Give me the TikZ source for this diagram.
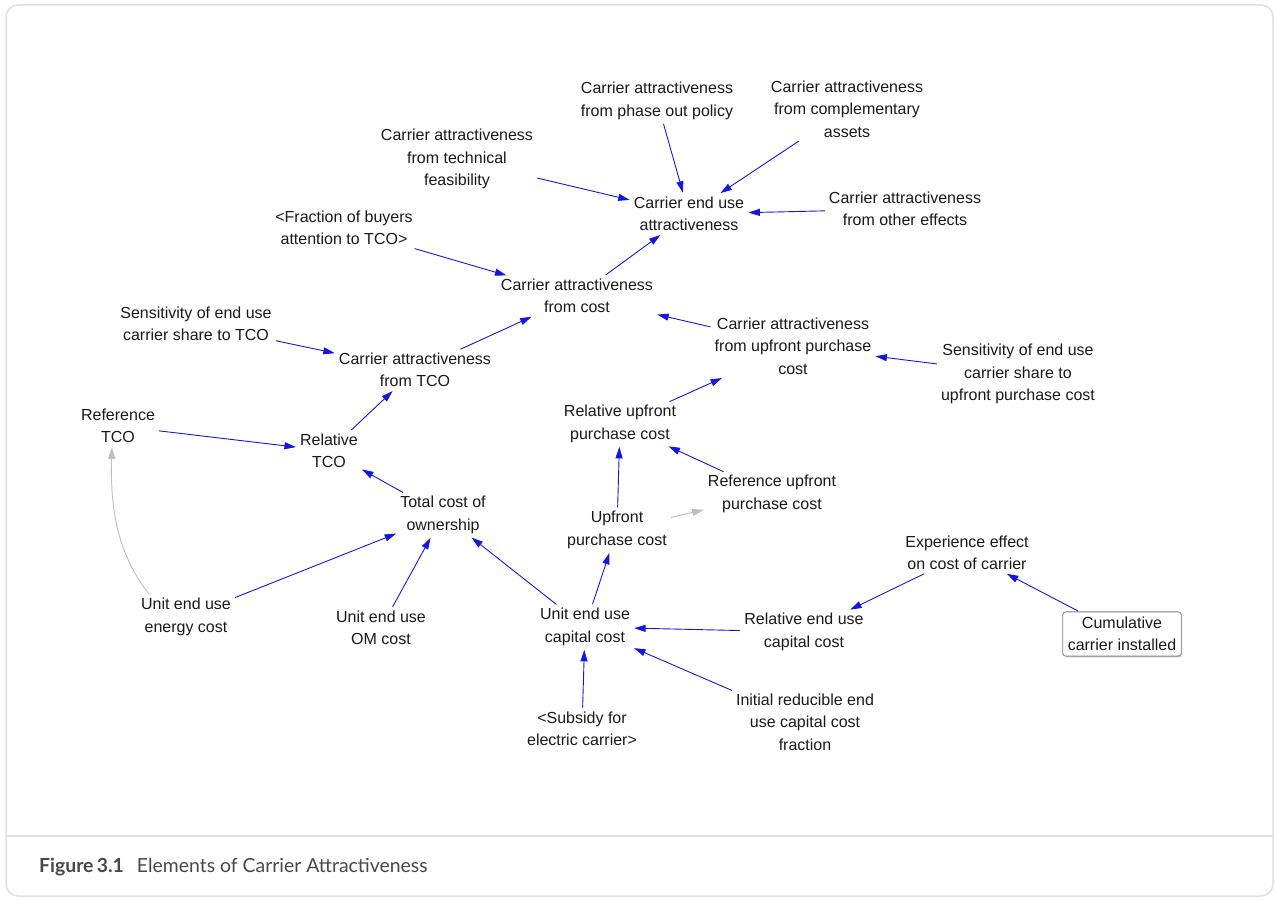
\documentclass[tikz,border=0pt]{standalone}
\usepackage{fontspec}
\setmainfont{Liberation Sans}
\newfontfamily\capfont{Lato}
\usetikzlibrary{arrows.meta,shadows}
\definecolor{linkblue}{RGB}{22,22,225}
\definecolor{linkgray}{RGB}{190,190,190}
\definecolor{framegray}{RGB}{224,224,224}
\definecolor{captext}{RGB}{72,72,72}
\begin{document}
\begin{tikzpicture}[x=1pt,y=-1pt,
  var/.style={align=center, font=\fontsize{16}{22.5}\selectfont, inner sep=3pt, text=black!90},
  link/.style={draw=linkblue, line width=0.9pt, -{Triangle[length=11.5pt,width=7pt]}, shorten >=1pt, shorten <=1pt},
  ghost/.style={link, draw=linkgray},
  stock/.style={var, draw=black!50, line width=0.8pt, rounded corners=3pt, fill=white, inner xsep=5pt, inner ysep=5pt,
    drop shadow={shadow xshift=1.2pt, shadow yshift=-1.2pt, opacity=0.35}}
]
\path[use as bounding box] (0,0) rectangle (1276,899);

% outer card and caption band
\draw[framegray, line width=1.5pt, rounded corners=12pt] (6,5) rectangle (1273,896);
\draw[framegray, line width=1.5pt] (6,836) -- (1273,836);
\node[anchor=west, inner sep=0pt, text=captext, font=\capfont\fontsize{19.4}{22}\selectfont] (caption) at (39,867)
  {\textbf{Figure\,3.1}\hspace{13pt}Elements of Carrier Attractiveness};

% variables
\node[var] (phaseout)  at (657,101) {Carrier attractiveness\\from phase out policy};
\node[var] (complem)   at (847,109) {Carrier attractiveness\\from complementary\\assets};
\node[var] (techfeas)  at (457,159) {Carrier attractiveness\\from technical\\feasibility};
\node[var] (enduse)    at (689,214) {Carrier end use\\attractiveness};
\node[var] (other)     at (905,209) {Carrier attractiveness\\from other effects};
\node[var] (fraction)  at (344,228) {<Fraction of buyers\\attention to TCO>};
\node[var] (fromcost)  at (577,296) {Carrier attractiveness\\from cost};
\node[var] (senstco)   at (196,324) {Sensitivity of end use\\carrier share to TCO};
\node[var] (fromtco)   at (415,370) {Carrier attractiveness\\from TCO};
\node[var] (fromup)    at (793,346) {Carrier attractiveness\\from upfront purchase\\cost};
\node[var] (sensup)    at (1018,374) {Sensitivity of end use\\carrier share to\\upfront purchase cost};
\node[var] (reftco)    at (118,426) {Reference\\TCO};
\node[var] (reltco)    at (329,451) {Relative\\TCO};
\node[var] (relup)     at (620,424) {Relative upfront\\purchase cost};
\node[var] (tco)       at (443,515) {Total cost of\\ownership};
\node[var] (upfront)   at (617,530) {Upfront\\purchase cost};
\node[var] (refup)     at (772,494) {Reference upfront\\purchase cost};
\node[var] (experience) at (967,553) {Experience effect\\on cost of carrier};
\node[var] (energy)    at (186,617) {Unit end use\\energy cost};
\node[var] (om)        at (381,628) {Unit end use\\OM cost};
\node[var] (capital)   at (585,627) {Unit end use\\capital cost};
\node[var] (relcap)    at (804,632) {Relative end use\\capital cost};
\node[stock] (cumul)   at (1122,634) {Cumulative\\carrier installed};
\node[var] (subsidy)   at (582,729) {<Subsidy for\\electric carrier>};
\node[var] (initial)   at (805,722) {Initial reducible end\\use capital cost\\fraction};

% causal links
\draw[link] (phaseout) -- (enduse);
\draw[link] (complem) -- (enduse);
\draw[link] (techfeas) -- (enduse);
\draw[link] (other) -- (enduse);
\draw[link] (fromcost) -- (enduse);
\draw[link] (fraction) -- (fromcost);
\draw[link] (fromup) -- (fromcost);
\draw[link] (fromtco) -- (fromcost);
\draw[link] (senstco) -- (fromtco);
\draw[link] (reltco) -- (fromtco);
\draw[link] (sensup) -- (fromup);
\draw[link] (relup) -- (fromup);
\draw[link] (reftco) -- (reltco);
\draw[link] (tco) -- (reltco);
\draw[link] (upfront) -- (relup);
\draw[link] (refup) -- (relup);
\draw[ghost] (upfront) -- (refup);
\draw[link] (energy) -- (tco);
\draw[link] (om) -- (tco);
\draw[link] (capital) -- (tco);
\draw[link] (capital) -- (upfront);
\draw[link] (relcap) -- (capital);
\draw[link] (initial) -- (capital);
\draw[link] (subsidy) -- (capital);
\draw[link] (experience) -- (relcap);
\draw[link] (cumul) -- (experience);
\draw[ghost] ([xshift=12pt]energy.north west) .. controls (118,555) and (110,510) .. ([xshift=-6pt]reftco.south);
\end{tikzpicture}
\end{document}
